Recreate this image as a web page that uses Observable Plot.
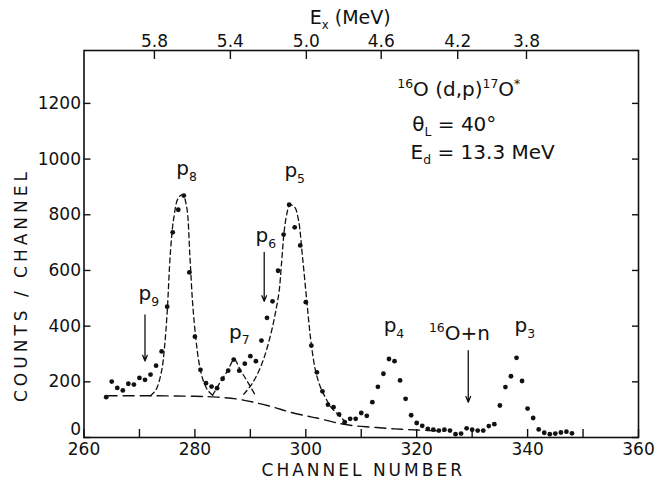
<!DOCTYPE html>
<html><head><meta charset="utf-8">
<script src="https://cdn.jsdelivr.net/npm/d3@7"></script>
<script src="https://cdn.jsdelivr.net/npm/@observablehq/plot@0.6"></script>
<style>
html,body{margin:0;padding:0;background:#fff;}
#chart svg{display:block;}
</style>
</head><body><div id="chart"></div>
<script>
// measured spectrum (channel, counts/channel)
const channel = [
  264,265,266,267,268,269,270,271,272,273,
  274,275,276,277,278,279,280,281,282,283,
  284,285,286,287,288,289,290,291,292,293,
  294,295,296,297,298,299,300,301,302,303,
  304,305,306,307,308,309,310,311,312,313,
  314,315,316,317,318,319,320,321,322,323,
  324,325,326,327,328,329,330,331,332,333,
  334,335,336,337,338,339,340,341,342,343,
  344,345,346,347,348];
const counts = [
  145,201,178,169,193,190,214,207,226,258,
  309,470,737,818,869,593,362,243,195,183,
  177,211,240,280,240,265,292,274,348,430,
  489,599,729,836,755,690,486,330,234,166,
  118,109,83,55,67,67,88,78,127,182,
  229,282,274,205,139,80,52,42,31,28,
  25,28,25,12,14,33,28,25,25,41,
  48,115,181,220,286,203,104,70,29,17,
  12,14,18,21,15];

// fitted curves
const bgChannel = [264,272,280,284,288,291,294,297,300,302,305,308,312,316,320,325];
const bgCounts  = [150,150,148,145,137,125,110,92,78,70,55,44,37,31,27,23];
const p8Channel = [272,273,274,274.5,275,275.6,276.2,277,277.8,278.5,279.1,279.6,280.2,280.8,281.5,282.3,283.2];
const p8Counts  = [150,172,240,320,450,670,790,860,872,830,650,480,350,262,205,170,152];
const p7Channel = [283.2,284.6,285.9,287.1,288.2,289.5,290.8];
const p7Counts  = [152,200,240,280,242,200,155];
const p5Channel = [288.8,290.1,291.3,292.5,293.7,294.6,295.2,295.6,296.1,296.6,297.1,298.0,298.7,299.4,300.2,300.9,301.7,302.6,303.5,304.5,305.7,306.9,307.8];
const p5Counts  = [155,187,229,288,372,456,527,620,740,805,836,827,779,650,486,350,245,183,145,110,85,62,50];

// axes
const xTicks = [260,270,280,290,300,310,320,330,340,350,360];
const xLabelled = [260,280,300,320,340,360];
const yTicks = [0,200,400,600,800,1000,1200];
const exTickLabels = ["5.8","5.4","5.0","4.6","4.2","3.8"];
const exTickChannel = [272.7,286.4,300.1,313.6,327.4,339.8];

// annotations
const peakLabels = ["p_{9}","p_{8}","p_{7}","p_{6}","p_{5}","p_{4}","^{16}O+n","p_{3}"];
const peakLabelChannel = [271.7,278.5,288.0,292.8,298.0,315.9,327.7,339.5];
const peakLabelCounts  = [516,965,378,725,958,402,372,402];
const arrowChannel = [271.0,292.5,329.3];
const arrowFrom    = [440,665,312];
const arrowTo      = [275,489,127];
const reactionLines = ["^{16}O (d,p)^{17}O^{*}","θ_{L} = 40°","E_{d} = 13.3 MeV"];
const reactionChannel = [316.5,319.2,318.9];
const reactionCounts  = [1249,1125,1025];

const pts = channel.map((c,i)=>({channel:c, counts:counts[i]}));
const mk = (cs, vs) => cs.map((c,i)=>({channel:c, counts:vs[i]}));
const bg = mk(bgChannel,bgCounts), p8 = mk(p8Channel,p8Counts), p7 = mk(p7Channel,p7Counts), p5 = mk(p5Channel,p5Counts);
const labels = peakLabels.map((t,i)=>({t, channel:peakLabelChannel[i], counts:peakLabelCounts[i]}));
const arrows = arrowChannel.map((c,i)=>({channel:c, from:arrowFrom[i], to:arrowTo[i]}));
const reaction = reactionLines.map((t,i)=>({t, channel:reactionChannel[i], counts:reactionCounts[i]}));

const ink = "#111";
const chart = Plot.plot({
  width: 658, height: 488,
  marginLeft: 83.5, marginRight: 20, marginTop: 50, marginBottom: 51,
  style: {fontFamily: "DejaVu Sans", fontSize: "17px", color: ink, background: "#fff"},
  x: {domain: [260,360], label: null},
  y: {domain: [0,1390], label: null},
  marks: [
    Plot.frame({stroke: ink, strokeWidth: 1.6}),
    Plot.axisX({anchor:"bottom", ticks: xTicks, tickSize: -8, tickPadding: 13, strokeWidth: 1.4,
      tickFormat: d => xLabelled.includes(d) ? String(d) : "", label: null}),
    Plot.axisX({anchor:"top", ticks: exTickChannel, tickSize: -8, tickPadding: 12, strokeWidth: 1.4,
      tickFormat: d => exTickLabels[exTickChannel.indexOf(d)], label: null}),
    Plot.axisY({anchor:"left", ticks: yTicks, tickSize: -7, tickPadding: 10, strokeWidth: 1.4,
      tickFormat: d => d === 0 ? "" : String(d), label: null}),
    Plot.axisY({anchor:"left", ticks: [0], tickSize: 0, tickPadding: 3, dy: -8,
      tickFormat: d => String(d), label: null}),
    Plot.axisY({anchor:"right", ticks: yTicks, tickSize: -7, tickFormat: () => "", strokeWidth: 1.4, label: null}),
    Plot.line(bg, {x:"channel", y:"counts", curve:"catmull-rom", stroke: ink, strokeWidth: 1.4, strokeDasharray: "11,6"}),
    Plot.line(p8, {x:"channel", y:"counts", curve:"catmull-rom", stroke: ink, strokeWidth: 1.3, strokeDasharray: "5,3.5"}),
    Plot.line(p7, {x:"channel", y:"counts", curve:"catmull-rom", stroke: ink, strokeWidth: 1.3, strokeDasharray: "5,3.5"}),
    Plot.line(p5, {x:"channel", y:"counts", curve:"catmull-rom", stroke: ink, strokeWidth: 1.3, strokeDasharray: "5,3.5"}),
    Plot.dot(pts, {x:"channel", y:"counts", r: 2.4, fill: ink, stroke: "none"}),
    Plot.arrow(arrows, {x1:"channel", x2:"channel", y1:"from", y2:"to", stroke: ink, strokeWidth: 1.3, headLength: 7, headAngle: 45}),
    Plot.text(labels, {x:"channel", y:"counts", text:"t", fontSize: 20, fill: ink}),
    Plot.text(reaction, {x:"channel", y:"counts", text:"t", fontSize: 20, textAnchor:"start", fill: ink}),
    Plot.text(["E_{x} (MeV)"], {frameAnchor:"top", textAnchor:"middle", dx: -11, dy: -40, fontSize: 19, fill: ink}),
    Plot.text(["CHANNEL NUMBER"], {frameAnchor:"bottom", textAnchor:"middle", dx: 2, dy: 38, fontSize: 17, fill: ink}),
    Plot.text(["COUNTS / CHANNEL"], {frameAnchor:"left", textAnchor:"middle", dx: -62, dy: 41, rotate: -90, fontSize: 17, fill: ink})
  ]
});

// letter spacing for axis titles
chart.querySelectorAll("text").forEach(t => {
  if (t.textContent === "COUNTS / CHANNEL") t.setAttribute("letter-spacing", "4");
  if (t.textContent === "CHANNEL NUMBER") t.setAttribute("letter-spacing", "3");
});

// sub/superscripts
function richify(root) {
  root.querySelectorAll("text").forEach(t => {
    const s = t.textContent;
    if (!/[_^]\{/.test(s)) return;
    while (t.firstChild) t.removeChild(t.firstChild);
    const re = /([_^])\{([^}]*)\}|([^_^]+)/g;
    let m, shift = 0;
    const size = 0.62;
    while ((m = re.exec(s))) {
      const ts = document.createElementNS("http://www.w3.org/2000/svg", "tspan");
      if (m[1]) {
        const target = m[1] === "_" ? 0.28 : -0.42;
        ts.setAttribute("font-size", (size*100) + "%");
        ts.setAttribute("dy", ((target - shift) / size).toFixed(3) + "em");
        shift = target;
        ts.textContent = m[2];
      } else {
        if (shift !== 0) ts.setAttribute("dy", (-shift).toFixed(3) + "em");
        shift = 0;
        ts.textContent = m[3];
      }
      t.appendChild(ts);
    }
  });
}
richify(chart);
document.getElementById("chart").appendChild(chart);
</script>
</body></html>
